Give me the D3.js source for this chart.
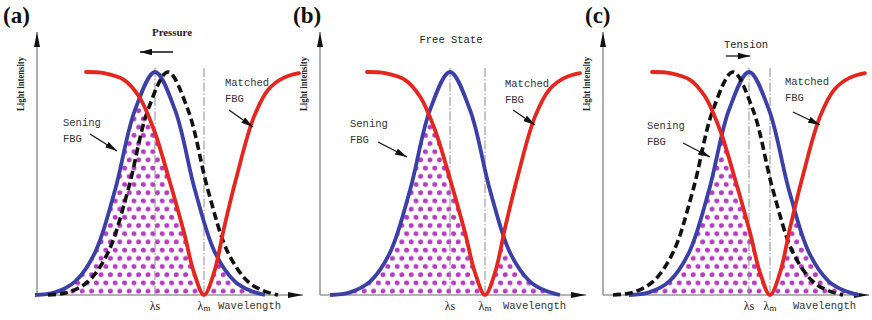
<!DOCTYPE html>
<html>
<head>
<meta charset="utf-8">
<script src="https://cdn.jsdelivr.net/npm/d3@7"></script>
<style>
  body { margin: 0; background: #fff; }
  svg { display: block; }
</style>
</head>
<body>
<svg id="chart" width="872" height="320"></svg>
<script>
// panel texts
const panelLabels = ['(a)', '(b)', '(c)'];
const stateTitles = ['Pressure', 'Free State', 'Tension'];
const shiftDirection = [-1, 0, 1];
const tickNames = ['λ', 'Wavelength'];

// centre wavelengths, px-like units from the y axis
const sensingPeak = [118, 130, 146];
const shiftedPeak = [131, null, 130];
const matchedDip = [167, 165, 167];

// reflection spectrum of the sensing FBG
const reflectOffset = [-120, -100, -80, -60, -40, -20, 0, 20, 40, 60, 80, 95, 110];
const reflectValue = [0, 0.012, 0.06, 0.19, 0.47, 0.83, 1, 0.83, 0.47, 0.19, 0.06, 0.02, 0];

// transmission of the matched FBG
const transmitOffset = [-118, -100, -80, -65, -50, -35, -20, -10, 0, 10, 20, 32, 50, 65, 80, 95];
const transmitValue = [1, 0.995, 0.965, 0.89, 0.74, 0.52, 0.28, 0.1, 0, 0.1, 0.3, 0.52, 0.8, 0.925, 0.975, 0.995];

// layout, relative to each panel's origin
const origins = [37, 320, 603];
const axisLen = 266;
const baseY = 295, topY = 72;
const layout = [
    { lab: 0, title: 135, titleY: 36, arrow: [136, 103], arrowY: 52, sen: [26, 126], senArr: [53, 134, 80, 151], mat: [188, 86], matArr: [192, 110, 216, 127], wave: 181 },
    { lab: 290, title: 131, titleY: 43, arrow: null, arrowY: 0, sen: [30, 127], senArr: [58, 142, 87, 157], mat: [185, 87], matArr: [193, 110, 215, 125], wave: 183 },
    { lab: 582, title: 143, titleY: 48, arrow: [123, 147], arrowY: 56, sen: [44, 129], senArr: [80, 143, 107, 157], mat: [182, 85], matArr: [190, 112, 217, 125], wave: 190 },
];

const RED = '#e4261e', BLUE = '#3b3fa8', DOT = '#b43cc0', AXIS = '#9a9a9a';
const MONO = '"Liberation Mono", "DejaVu Sans Mono", monospace';
const SERIF = '"Liberation Serif", "DejaVu Serif", serif';

const svg = d3.select('#chart');
const defs = svg.append('defs');

// dot pattern for the overlap area
const pat = defs.append('pattern')
    .attr('id', 'dots')
    .attr('patternUnits', 'userSpaceOnUse')
    .attr('width', 9.4)
    .attr('height', 16.4);
pat.append('circle').attr('cx', 2.35).attr('cy', 4.1).attr('r', 2.5).attr('fill', DOT);
pat.append('circle').attr('cx', 7.05).attr('cy', 12.3).attr('r', 2.5).attr('fill', DOT);

// arrow heads
function marker(id, len, wid) {
    defs.append('marker')
        .attr('id', id)
        .attr('markerUnits', 'userSpaceOnUse')
        .attr('markerWidth', len)
        .attr('markerHeight', wid)
        .attr('refX', len)
        .attr('refY', wid / 2)
        .attr('orient', 'auto')
        .append('path')
        .attr('d', `M0,0L${len},${wid / 2}L0,${wid}Z`)
        .attr('fill', '#111');
}
marker('axisHead', 15, 6);
marker('noteHead', 12, 6.5);

const y = d3.scaleLinear().domain([0, 1]).range([baseY, topY]);
const curve = d3.curveCatmullRom.alpha(0.5);

panelLabels.forEach((label, i) => {
    const ox = origins[i];
    const L = layout[i];
    const x = d3.scaleLinear().domain([0, axisLen]).range([ox, ox + axisLen]);
    const line = d3.line().x(d => x(d.x)).y(d => y(d.v)).curve(curve);
    const area = d3.area().x(d => x(d.x)).y0(baseY).y1(d => y(d.v)).curve(curve);

    const blue = reflectOffset.map((o, k) => ({ x: sensingPeak[i] + o, v: reflectValue[k] }));
    const red = transmitOffset.map((o, k) => ({ x: matchedDip[i] + o, v: transmitValue[k] }));
    const black = shiftedPeak[i] == null ? null
        : reflectOffset.map((o, k) => ({ x: shiftedPeak[i] + o, v: reflectValue[k] }));

    const g = svg.append('g');

    // overlap = under blue AND under red
    defs.append('clipPath').attr('id', 'cb' + i)
        .append('path').attr('d', area(blue));
    const cr = defs.append('clipPath').attr('id', 'cr' + i);
    cr.append('path').attr('d', area(red));
    cr.append('rect')
        .attr('x', ox).attr('y', topY)
        .attr('width', x(red[0].x) - ox + 1).attr('height', baseY - topY);
    g.append('g').attr('clip-path', `url(#cb${i})`)
        .append('rect')
        .attr('clip-path', `url(#cr${i})`)
        .attr('x', ox).attr('y', topY - 5)
        .attr('width', axisLen).attr('height', baseY - topY + 5)
        .attr('fill', 'url(#dots)');

    // dash-dot guides at λs and λm
    [sensingPeak[i], matchedDip[i]].forEach(c => {
        g.append('line')
            .attr('x1', x(c)).attr('x2', x(c))
            .attr('y1', topY - 4).attr('y2', baseY)
            .attr('stroke', '#8c8c8c')
            .attr('stroke-width', 1)
            .attr('stroke-dasharray', '9 2 1.5 2');
    });

    // axes
    g.append('line')
        .attr('x1', ox).attr('y1', baseY).attr('x2', ox).attr('y2', 32)
        .attr('stroke', AXIS).attr('stroke-width', 1.6)
        .attr('marker-end', 'url(#axisHead)');
    g.append('line')
        .attr('x1', ox).attr('y1', baseY).attr('x2', ox + axisLen).attr('y2', baseY)
        .attr('stroke', AXIS).attr('stroke-width', 1.6)
        .attr('marker-end', 'url(#axisHead)');

    // spectra
    g.append('path').attr('d', line(blue))
        .attr('fill', 'none').attr('stroke', BLUE).attr('stroke-width', 3.8);
    if (black) {
        g.append('path').attr('d', line(black))
            .attr('fill', 'none').attr('stroke', '#111').attr('stroke-width', 3.6)
            .attr('stroke-dasharray', '8 4');
    }
    g.append('path').attr('d', line(red))
        .attr('fill', 'none').attr('stroke', RED).attr('stroke-width', 3.8)
        .attr('stroke-linecap', 'round');

    // panel label
    svg.append('text')
        .attr('x', L.lab + 3).attr('y', 23)
        .attr('font-family', SERIF).attr('font-weight', 'bold').attr('font-size', 23)
        .attr('fill', '#111')
        .text(label);

    // y title
    svg.append('text')
        .attr('transform', `translate(${ox - 13},84) rotate(-90)`)
        .attr('text-anchor', 'middle')
        .attr('font-family', SERIF).attr('font-weight', 'bold').attr('font-size', 11)
        .attr('textLength', 54).attr('lengthAdjust', 'spacingAndGlyphs')
        .attr('fill', '#222')
        .text('Light intensity');

    // state title and shift arrow
    const t = svg.append('text')
        .attr('x', x(L.title)).attr('y', L.titleY)
        .attr('text-anchor', 'middle')
        .attr('fill', '#222')
        .text(stateTitles[i]);
    if (shiftDirection[i] < 0) {
        t.attr('font-family', SERIF).attr('font-weight', 'bold').attr('font-size', 10.5)
            .attr('textLength', 40).attr('lengthAdjust', 'spacingAndGlyphs');
    } else {
        t.attr('font-family', MONO).attr('font-size', 10.5);
    }
    if (L.arrow) {
        svg.append('line')
            .attr('x1', x(L.arrow[0])).attr('x2', x(L.arrow[1]))
            .attr('y1', L.arrowY).attr('y2', L.arrowY)
            .attr('stroke', '#111').attr('stroke-width', 1.3)
            .attr('marker-end', 'url(#noteHead)');
    }

    // curve notes
    const note = (tx, ty, lines) => {
        lines.forEach((s, k) => {
            svg.append('text')
                .attr('x', x(tx)).attr('y', ty + k * 16)
                .attr('font-family', MONO).attr('font-size', 10.5)
                .attr('fill', '#333')
                .text(s);
        });
    };
    note(L.sen[0], L.sen[1], ['Sening', 'FBG']);
    note(L.mat[0], L.mat[1], ['Matched', 'FBG']);
    [L.senArr, L.matArr].forEach(a => {
        svg.append('line')
            .attr('x1', x(a[0])).attr('y1', a[1]).attr('x2', x(a[2])).attr('y2', a[3])
            .attr('stroke', '#111').attr('stroke-width', 1.2)
            .attr('marker-end', 'url(#noteHead)');
    });

    // wavelength ticks
    const ls = svg.append('text')
        .attr('x', x(sensingPeak[i])).attr('y', 310)
        .attr('text-anchor', 'middle')
        .attr('font-family', SERIF).attr('font-size', 12).attr('fill', '#222');
    ls.append('tspan').text(tickNames[0]);
    ls.append('tspan').text('s');
    const lm = svg.append('text')
        .attr('x', x(matchedDip[i])).attr('y', 310)
        .attr('text-anchor', 'middle')
        .attr('font-family', SERIF).attr('font-size', 12).attr('fill', '#222');
    lm.append('tspan').text(tickNames[0]);
    lm.append('tspan').attr('font-size', 9).attr('dy', 1).text('m');
    svg.append('text')
        .attr('x', x(L.wave)).attr('y', 309)
        .attr('font-family', MONO).attr('font-size', 10.5).attr('fill', '#333')
        .text(tickNames[1]);
});
</script>
</body>
</html>
